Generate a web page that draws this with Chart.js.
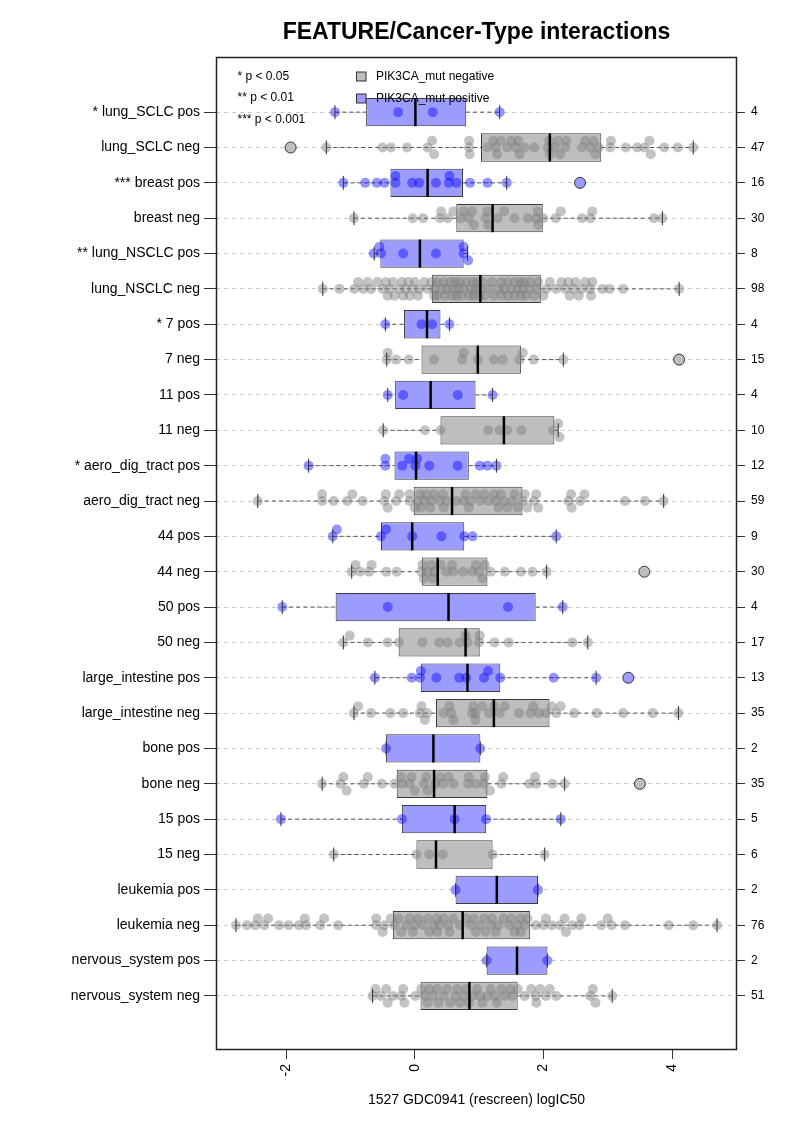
<!DOCTYPE html>
<html>
<head>
<meta charset="utf-8">
<script src="https://cdn.jsdelivr.net/npm/chart.js@4/dist/chart.umd.min.js"></script>
<style>
  html, body { margin: 0; padding: 0; background: #fff; }
  #wrap { width: 793px; height: 1122px; }
</style>
</head>
<body>
<div id="wrap"><canvas id="chart" width="793" height="1122"></canvas></div>
<script>
// ---- data (top row first) ----
const chartTitle = 'FEATURE/Cancer-Type interactions';
const xTitle = '1527 GDC0941 (rescreen) logIC50';
const xTicks = [-2, 0, 2, 4];

const rowLabels = [
  '* lung_SCLC pos', 'lung_SCLC neg', '*** breast pos', 'breast neg',
  '** lung_NSCLC pos', 'lung_NSCLC neg', '* 7 pos', '7 neg', '11 pos', '11 neg',
  '* aero_dig_tract pos', 'aero_dig_tract neg', '44 pos', '44 neg', '50 pos', '50 neg',
  'large_intestine pos', 'large_intestine neg', 'bone pos', 'bone neg', '15 pos', '15 neg',
  'leukemia pos', 'leukemia neg', 'nervous_system pos', 'nervous_system neg'
];
const rowGroup = ['pos','neg','pos','neg','pos','neg','pos','neg','pos','neg','pos','neg','pos',
  'neg','pos','neg','pos','neg','pos','neg','pos','neg','pos','neg','pos','neg'];
const rowCounts = [4, 47, 16, 30, 8, 98, 4, 15, 4, 10, 12, 59, 9, 30, 4, 17, 13, 35, 2, 35, 5, 6, 2, 76, 2, 51];

const whiskerLow = [-1.24, -1.375, -1.11, -0.945, -0.63, -1.43, -0.457, -0.436, -0.42, -0.49, -1.65, -2.44, -1.275,
  -0.98, -2.06, -1.11, -0.62, -0.945, -0.446, -1.44, -2.08, -1.26, 0.635, -2.78, 1.118, -0.656];
const boxLow = [-0.756, 1.03, -0.378, 0.646, -0.535, 0.27, -0.168, 0.105, -0.305, 0.40, -0.315, -0.016, -0.525,
  0.11, -1.23, -0.25, 0.094, 0.33, -0.446, -0.28, -0.20, 0.026, 0.635, -0.34, 1.118, 0.09];
const boxMedian = [0.01, 2.10, 0.20, 1.21, 0.08, 1.02, 0.19, 0.98, 0.247, 1.386, 0.02, 0.58, -0.04,
  0.357, 0.525, 0.79, 0.82, 1.23, 0.29, 0.30, 0.62, 0.33, 1.276, 0.745, 1.59, 0.85];
const boxHigh = [0.80, 2.90, 0.75, 1.99, 0.76, 1.96, 0.40, 1.65, 0.945, 2.17, 0.84, 1.675, 0.77,
  1.13, 1.88, 1.01, 1.33, 2.095, 1.02, 1.13, 1.11, 1.21, 1.916, 1.795, 2.063, 1.60];
const whiskerHigh = [1.32, 4.33, 1.43, 3.85, 0.82, 4.11, 0.54, 2.31, 1.21, 2.23, 1.27, 3.87, 2.20,
  2.05, 2.30, 2.69, 2.82, 4.10, 1.02, 2.33, 2.27, 2.02, 1.916, 4.70, 2.063, 3.07];

const rowOutliers = [[], [-1.93], [2.57], [], [], [], [], [4.11], [], [], [], [], [],
  [3.57], [], [], [3.32], [], [], [3.50], [], [], [], [], [], []];

const rowPoints = [
  [-1.24, -0.26, 0.28, 1.32],
  [-1.375, -0.50, -0.37, -0.12, 0.20, 0.27, 0.30, 0.845, 0.845, 0.855, 1.13, 1.22, 1.26, 1.28, 1.34, 1.44, 1.50,
   1.57, 1.61, 1.63, 1.71, 1.86, 2.07, 2.09, 2.10, 2.18, 2.23, 2.26, 2.34, 2.36, 2.60, 2.65, 2.73, 2.78, 2.81,
   2.86, 3.04, 3.05, 3.28, 3.46, 3.57, 3.65, 3.67, 3.88, 4.09, 4.33],
  [-1.11, -0.77, -0.59, -0.47, -0.30, -0.30, -0.04, 0.07, 0.33, 0.53, 0.54, 0.65, 0.86, 1.13, 1.43],
  [-0.945, -0.03, 0.13, 0.39, 0.41, 0.51, 0.60, 0.71, 0.76, 0.84, 0.89, 0.92, 1.10, 1.13, 1.14, 1.29, 1.39,
   1.55, 1.76, 1.89, 1.91, 1.92, 2.0, 2.19, 2.27, 2.60, 2.73, 2.76, 3.72, 3.85],
  [-0.64, -0.55, -0.525, -0.18, 0.33, 0.76, 0.76, 0.83],
  [-1.43, -1.17, -0.94, -0.88, -0.80, -0.73, -0.68, -0.58, -0.50, -0.45, -0.42, -0.39, -0.34, -0.31, -0.24,
   -0.20, -0.18, -0.14, -0.10, -0.08, -0.03, 0.0, 0.05, 0.07, 0.15, 0.20, 0.26, 0.30, 0.31, 0.34, 0.35, 0.42,
   0.45, 0.47, 0.50, 0.55, 0.58, 0.60, 0.63, 0.65, 0.68, 0.70, 0.73, 0.76, 0.80, 0.85, 0.87, 0.90, 0.92, 0.95,
   0.97, 1.0, 1.02, 1.05, 1.08, 1.15, 1.20, 1.23, 1.30, 1.34, 1.35, 1.39, 1.44, 1.45, 1.50, 1.55, 1.55, 1.60,
   1.64, 1.65, 1.68, 1.70, 1.73, 1.78, 1.80, 1.86, 1.90, 1.92, 2.0, 2.05, 2.10, 2.20, 2.28, 2.34, 2.39, 2.41,
   2.47, 2.50, 2.55, 2.60, 2.65, 2.73, 2.74, 2.76, 2.92, 3.03, 3.24, 4.11],
  [-0.457, 0.105, 0.27, 0.54],
  [-0.436, -0.42, -0.29, -0.094, 0.30, 0.735, 0.76, 0.98, 1.23, 1.37, 1.63, 1.68, 1.85, 2.31],
  [-0.42, -0.18, 0.67, 1.21],
  [-0.49, 0.16, 0.40, 1.14, 1.32, 1.44, 1.66, 2.15, 2.23, 2.25],
  [-1.65, -0.457, -0.457, -0.194, -0.09, 0.01, 0.037, 0.226, 0.667, 1.01, 1.13, 1.27],
  [-2.44, -1.44, -1.44, -1.26, -1.05, -0.97, -0.81, -0.47, -0.45, -0.42, -0.29, -0.24, -0.08, -0.08, 0.0, 0.05,
   0.08, 0.10, 0.15, 0.18, 0.24, 0.26, 0.30, 0.39, 0.44, 0.45, 0.50, 0.65, 0.76, 0.79, 0.84, 0.87, 0.95, 1.02,
   1.08, 1.15, 1.23, 1.26, 1.30, 1.34, 1.39, 1.44, 1.52, 1.55, 1.60, 1.68, 1.71, 1.75, 1.85, 1.89, 1.92, 2.39,
   2.43, 2.44, 2.57, 2.64, 3.27, 3.58, 3.87],
  [-1.275, -1.21, -0.525, -0.446, -0.04, 0.415, 0.77, 0.90, 2.20],
  [-0.98, -0.92, -0.85, -0.71, -0.67, -0.44, -0.28, 0.105, 0.12, 0.14, 0.20, 0.26, 0.28, 0.30, 0.40, 0.49,
   0.58, 0.60, 0.75, 0.89, 0.95, 1.0, 1.05, 1.09, 1.18, 1.40, 1.65, 1.83, 2.05],
  [-2.06, -0.42, 1.45, 2.30],
  [-1.11, -1.01, -0.73, -0.42, -0.247, 0.12, 0.38, 0.51, 0.70, 0.79, 0.82, 1.0, 1.01, 1.24, 1.46, 2.45, 2.69],
  [-0.62, -0.047, 0.08, 0.094, 0.336, 0.69, 0.80, 1.076, 1.14, 1.33, 2.16, 2.82],
  [-0.945, -0.88, -0.68, -0.38, -0.18, 0.08, 0.105, 0.157, 0.19, 0.446, 0.54, 0.567, 0.60, 0.89, 0.91, 0.945,
   0.945, 1.05, 1.155, 1.23, 1.32, 1.40, 1.62, 1.80, 1.84, 1.93, 2.04, 2.13, 2.20, 2.27, 2.48, 2.83, 3.24,
   3.70, 4.10],
  [-0.446, 1.02],
  [-1.44, -1.155, -1.11, -1.06, -0.79, -0.73, -0.51, -0.315, -0.21, -0.194, -0.08, -0.05, 0.0, 0.14, 0.18,
   0.20, 0.315, 0.39, 0.44, 0.525, 0.60, 0.83, 0.84, 0.95, 1.076, 1.09, 1.17, 1.35, 1.375, 1.78, 1.87, 1.89,
   2.14, 2.33],
  [-2.08, -0.20, 0.62, 1.11, 2.27],
  [-1.26, 0.026, 0.226, 0.436, 1.21, 2.02],
  [0.635, 1.916],
  [-2.78, -2.61, -2.48, -2.44, -2.34, -2.28, -2.11, -1.96, -1.80, -1.71, -1.69, -1.47, -1.41, -1.19, -0.60,
   -0.60, -0.50, -0.47, -0.37, -0.315, -0.25, -0.21, -0.13, -0.08, -0.03, 0.0, 0.05, 0.13, 0.20, 0.226, 0.29,
   0.34, 0.35, 0.39, 0.45, 0.525, 0.54, 0.60, 0.70, 0.80, 0.87, 0.92, 0.95, 1.02, 1.08, 1.10, 1.18, 1.20,
   1.26, 1.30, 1.38, 1.47, 1.50, 1.55, 1.60, 1.64, 1.65, 1.71, 1.75, 1.88, 2.0, 2.04, 2.13, 2.26, 2.33, 2.35,
   2.45, 2.56, 2.59, 2.90, 3.0, 3.06, 3.27, 3.95, 4.33, 4.70],
  [1.118, 2.063],
  [-0.656, -0.61, -0.525, -0.446, -0.42, -0.34, -0.21, -0.18, -0.16, 0.01, 0.10, 0.157, 0.20, 0.226, 0.29,
   0.35, 0.37, 0.45, 0.50, 0.55, 0.63, 0.66, 0.70, 0.76, 0.80, 0.84, 0.90, 0.97, 1.02, 1.05, 1.13, 1.18, 1.25,
   1.276, 1.35, 1.40, 1.49, 1.52, 1.60, 1.71, 1.81, 1.88, 1.89, 1.95, 2.04, 2.10, 2.20, 2.73, 2.77, 2.81, 3.07]
];

const pNotes = ['* p < 0.05', '** p < 0.01', '*** p < 0.001'];
const legendLabels = ['PIK3CA_mut negative', 'PIK3CA_mut positive'];

// ---- layout / style ----
const FONT = '"Liberation Sans", Arial, Helvetica, sans-serif';
const X_MIN = -3.09, X_MAX = 5.01;
const Y_MIN = -0.56, Y_MAX = 27.53;
const AREA = { left: 216, right: 737, top: 57, bottom: 1050 };
const pxPerX = (AREA.right - AREA.left) / (X_MAX - X_MIN);
const pxPerRow = (AREA.bottom - AREA.top) / (Y_MAX - Y_MIN);
const STEP = 6.8;   // swarm spacing in px

const GRAY_BOX = '#bebebe', BLUE_BOX = '#9c9cff';
const GRAY_PT = 'rgba(125,125,125,0.46)', BLUE_PT = 'rgba(0,0,255,0.42)';

// beeswarm-like vertical offsets (3 layers), in px
function swarmOffsets(vals) {
  const layers = [0, -STEP, STEP];
  const placed = [[], [], []];
  const offs = new Array(vals.length).fill(0);
  const order = vals.map((v, i) => i).sort((a, b) => vals[a] - vals[b]);
  order.forEach(i => {
    const x = vals[i] * pxPerX;
    let best = 0, bestGap = -1;
    for (let L = 0; L < layers.length; L++) {
      let gap = Infinity;
      placed[L].forEach(p => { gap = Math.min(gap, Math.abs(p - x)); });
      if (gap >= STEP) { best = L; break; }
      if (gap > bestGap) { bestGap = gap; best = L; }
    }
    placed[best].push(x);
    offs[i] = layers[best];
  });
  return offs;
}

const rowPos = rowLabels.map((_, i) => i + 1);

const boxData = rowPos.map((y, i) => ({ y: y, x: [boxLow[i], boxHigh[i]] }));
const boxColors = rowGroup.map(g => g === 'pos' ? BLUE_BOX : GRAY_BOX);

const whiskerData = [];
rowPos.forEach((y, i) => {
  whiskerData.push({ x: whiskerLow[i], y: y }, { x: boxLow[i], y: y }, { x: NaN, y: NaN });
  whiskerData.push({ x: boxHigh[i], y: y }, { x: whiskerHigh[i], y: y }, { x: NaN, y: NaN });
});
const stapleData = [];
rowPos.forEach((y, i) => {
  stapleData.push({ x: whiskerLow[i], y: y }, { x: whiskerHigh[i], y: y });
});
const medianData = rowPos.map((y, i) => ({ x: boxMedian[i], y: y }));

const grayPts = [], bluePts = [];
rowPoints.forEach((vals, i) => {
  const offs = swarmOffsets(vals);
  vals.forEach((v, k) => {
    const pt = { x: v, y: rowPos[i] + offs[k] / pxPerRow };
    (rowGroup[i] === 'pos' ? bluePts : grayPts).push(pt);
  });
});
const outlierData = [], outlierColors = [];
rowOutliers.forEach((vals, i) => {
  vals.forEach(v => {
    outlierData.push({ x: v, y: rowPos[i] });
    outlierColors.push(rowGroup[i] === 'pos' ? BLUE_BOX : GRAY_BOX);
  });
});

function rowTicks(scale) {
  scale.ticks = rowPos.map(v => ({ value: v }));
}

const annotate = {
  id: 'annotate',
  afterDraw(chart) {
    const ctx = chart.ctx, a = chart.chartArea;
    ctx.save();
    ctx.strokeStyle = '#222';
    ctx.lineWidth = 1.5;
    ctx.strokeRect(a.left + 0.5, a.top + 0.5, a.right - a.left - 1, a.bottom - a.top - 1);

    ctx.fillStyle = '#000';
    ctx.font = 'bold 23px ' + FONT;
    ctx.textAlign = 'center';
    ctx.textBaseline = 'alphabetic';
    ctx.fillText(chartTitle, (a.left + a.right) / 2, 38.5);

    ctx.font = '12px ' + FONT;
    ctx.textAlign = 'left';
    ctx.textBaseline = 'middle';
    pNotes.forEach((t, i) => ctx.fillText(t, a.left + 21.5, 76.5 + i * 21.5));

    ctx.lineWidth = 1;
    legendLabels.forEach((t, i) => {
      const y = 76.5 + i * 22;
      ctx.fillStyle = i === 0 ? GRAY_BOX : BLUE_BOX;
      ctx.fillRect(a.left + 140.5, y - 4.5, 9.5, 9);
      ctx.strokeStyle = '#333';
      ctx.strokeRect(a.left + 140.5, y - 4.5, 9.5, 9);
      ctx.fillStyle = '#000';
      ctx.fillText(t, a.left + 160, y);
    });
    ctx.restore();
  }
};

new Chart(document.getElementById('chart'), {
  type: 'bar',
  data: {
    datasets: [
      {
        type: 'bar', indexAxis: 'y', data: boxData,
        backgroundColor: boxColors, borderColor: '#3a3a3a', borderWidth: 1, borderSkipped: false,
        barPercentage: 0.8, categoryPercentage: 1, order: 6
      },
      {
        type: 'scatter', data: whiskerData, showLine: true, spanGaps: false,
        borderColor: '#555', borderWidth: 1, borderDash: [4, 3], pointRadius: 0, order: 5
      },
      {
        type: 'scatter', data: grayPts, backgroundColor: GRAY_PT, borderWidth: 0,
        pointRadius: 5, order: 4
      },
      {
        type: 'scatter', data: bluePts, backgroundColor: BLUE_PT, borderWidth: 0,
        pointRadius: 5, order: 3
      },
      {
        type: 'scatter', data: outlierData, backgroundColor: outlierColors, borderColor: '#333',
        borderWidth: 1, pointRadius: 5.5, order: 2
      },
      {
        type: 'scatter', data: stapleData, pointStyle: 'line', rotation: 90, pointRadius: 7,
        borderColor: '#333', borderWidth: 1, order: 1
      },
      {
        type: 'scatter', data: medianData, pointStyle: 'line', rotation: 90, pointRadius: 14,
        borderColor: '#000', borderWidth: 2.5, order: 0
      }
    ]
  },
  options: {
    responsive: false,
    animation: false,
    events: [],
    layout: { padding: { top: AREA.top, left: 0, right: 0, bottom: 0 }, autoPadding: false },
    plugins: { legend: { display: false }, tooltip: { enabled: false }, title: { display: false } },
    scales: {
      x: {
        type: 'linear', position: 'bottom', min: X_MIN, max: X_MAX, offset: false,
        afterBuildTicks: s => { s.ticks = xTicks.map(v => ({ value: v })); },
        afterFit: s => { s.height = 1122 - AREA.bottom; },
        grid: { drawOnChartArea: false, offset: false, tickLength: 9, tickColor: '#333' },
        border: { display: false },
        ticks: { color: '#000', font: { family: FONT, size: 14 }, minRotation: 90, maxRotation: 90,
                 padding: 5, autoSkip: false },
        title: { display: true, text: xTitle, color: '#000', font: { family: FONT, size: 14 },
                 padding: { top: 0, bottom: 13 } }
      },
      y: {
        type: 'linear', position: 'left', min: Y_MIN, max: Y_MAX, reverse: true, offset: false,
        afterBuildTicks: rowTicks,
        afterFit: s => { s.width = AREA.left; },
        grid: { drawOnChartArea: true, offset: false, color: '#cccccc', lineWidth: 1, tickLength: 12,
                tickColor: '#333', tickBorderDash: [] },
        border: { display: false, dash: [4, 4] },
        ticks: { color: '#000', font: { family: FONT, size: 14 }, padding: 4, autoSkip: false,
                 callback: v => rowLabels[v - 1] }
      },
      yRight: {
        type: 'linear', position: 'right', min: Y_MIN, max: Y_MAX, reverse: true, offset: false,
        afterBuildTicks: rowTicks,
        afterFit: s => { s.width = 793 - AREA.right; },
        grid: { drawOnChartArea: false, offset: false, tickLength: 8, tickColor: '#333' },
        border: { display: false },
        ticks: { color: '#000', font: { family: FONT, size: 12 }, padding: 6, autoSkip: false,
                 callback: v => String(rowCounts[v - 1]) }
      }
    }
  },
  plugins: [annotate]
});
</script>
</body>
</html>
